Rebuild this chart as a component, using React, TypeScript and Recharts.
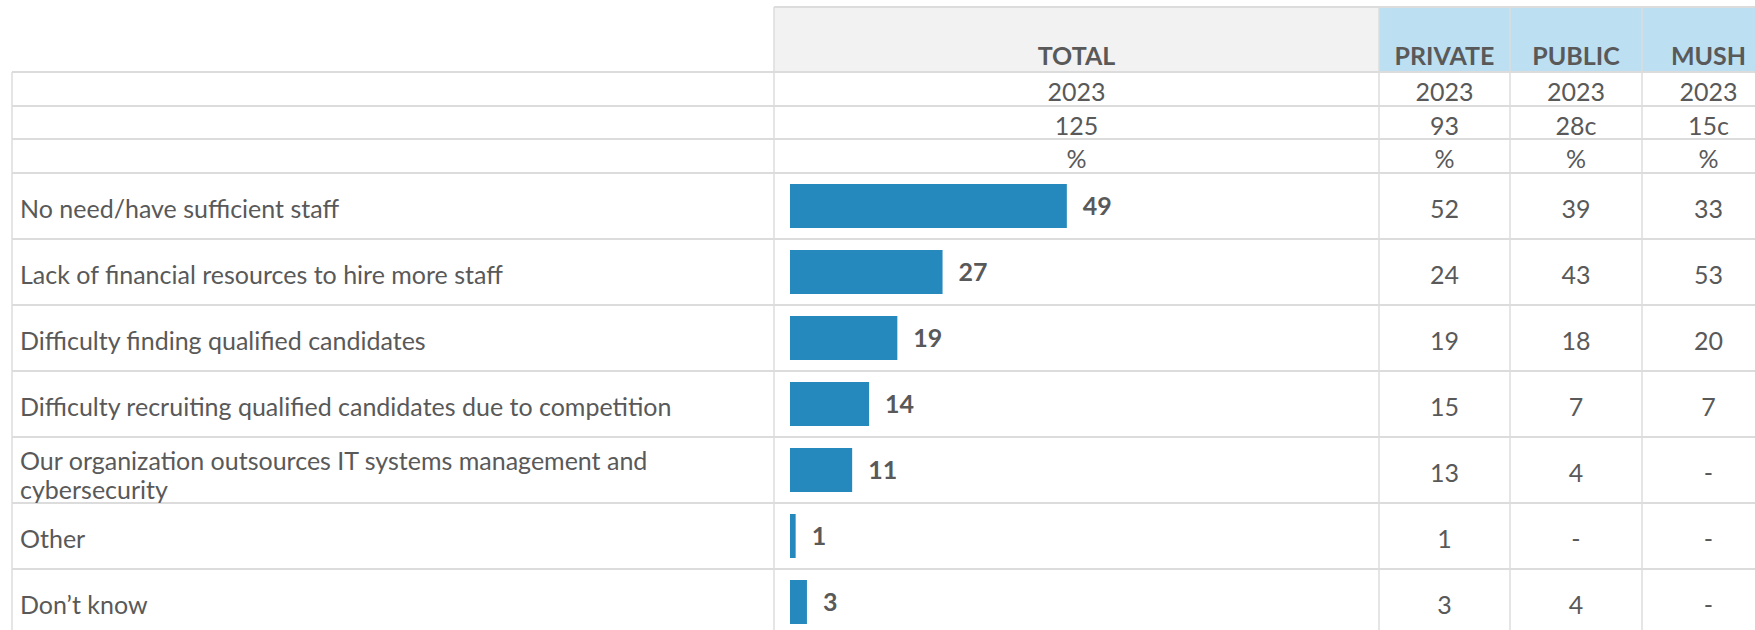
import { BarChart, Bar, XAxis, YAxis, LabelList } from "recharts";

const categories = [
  "No need/have sufficient staff",
  "Lack of financial resources to hire more staff",
  "Difficulty finding qualified candidates",
  "Difficulty recruiting qualified candidates due to competition",
  "Our organization outsources IT systems management and cybersecurity",
  "Other",
  "Don\u2019t know",
];
const totalValues = [49, 27, 19, 14, 11, 1, 3];
const privateValues = [52, 24, 19, 15, 13, 1, 3];
const publicValues = [39, 43, 18, 7, 4, null, 4];
const mushValues = [33, 53, 20, 7, null, null, null];

const columnNames = ["TOTAL", "PRIVATE", "PUBLIC", "MUSH"];
const yearLabels = ["2023", "2023", "2023", "2023"];
const baseLabels = ["125", "93", "28c", "15c"];
const unitLabels = ["%", "%", "%", "%"];

const data = categories.map((label, i) => ({
  label,
  total: totalValues[i],
  priv: privateValues[i],
  pub: publicValues[i],
  mush: mushValues[i],
}));

// layout
const W = 1755;
const H = 630;
const FONT = "Lato, 'Open Sans', sans-serif";
const FS = 25;
const TEXT = "#595959";
const LINE = "#DCDCDC";
const COL_X = [12, 774, 1379, 1510, 1642, 1775];
const HEAD_TOP = 7;
const HEAD_BOTTOM = 72;
const SUB_ROWS = [72, 106, 139, 173];
const ROW_TOP = 173;
const ROW_H = 66;
const PLOT_LEFT = 790;
const RIGHT_W = 400;

// centre of a table column (0 = TOTAL, 1 = PRIVATE, ...)
const colCenter = (c: number) => (COL_X[c + 1] + COL_X[c + 2]) / 2;
const fmt = (v: number | null) => (v == null ? "-" : String(v));

function wrap(text: string, max: number) {
  const words = text.split(" ");
  const lines: string[] = [];
  let cur = "";
  for (const w of words) {
    if (cur && (cur + " " + w).length > max) {
      lines.push(cur);
      cur = w;
    } else {
      cur = cur ? cur + " " + w : w;
    }
  }
  if (cur) lines.push(cur);
  return lines;
}

function LeftTick({ y, payload }: any) {
  const lines = wrap(payload.value, 62);
  return (
    <text x={20} y={y} fill={TEXT} fontSize={FS} fontFamily={FONT} dominantBaseline="central">
      {lines.length === 1 ? (
        <tspan x={20} dy={2}>{lines[0]}</tspan>
      ) : (
        lines.map((l, i) => (
          <tspan key={i} x={20} dy={i === 0 ? -10 : 29}>
            {l}
          </tspan>
        ))
      )}
    </text>
  );
}

function RightTick({ y, index }: any) {
  const row = data[index];
  const vals = [row.priv, row.pub, row.mush];
  return (
    <g>
      {vals.map((v, i) => (
        <text
          key={i}
          x={colCenter(i + 1)}
          y={y + 2}
          textAnchor="middle"
          dominantBaseline="central"
          fill={TEXT}
          fontSize={FS}
          fontFamily={FONT}
        >
          {fmt(v)}
        </text>
      ))}
    </g>
  );
}

function TableBackground() {
  const bottom = ROW_TOP + ROW_H * categories.length;
  const rowLines = [...SUB_ROWS, ...categories.map((_, i) => ROW_TOP + ROW_H * (i + 1))];
  const subTexts = [yearLabels, baseLabels, unitLabels];
  return (
    <svg width={W} height={H} style={{ position: "absolute", left: 0, top: 0 }}>
      <rect x={COL_X[1]} y={HEAD_TOP} width={COL_X[2] - COL_X[1]} height={HEAD_BOTTOM - HEAD_TOP} fill="#F2F2F2" />
      <rect x={COL_X[2]} y={HEAD_TOP} width={COL_X[5] - COL_X[2]} height={HEAD_BOTTOM - HEAD_TOP} fill="#BDDFF2" />
      <line x1={COL_X[1]} x2={W} y1={HEAD_TOP} y2={HEAD_TOP} stroke={LINE} strokeWidth={2} />
      {rowLines.map((y, i) => (
        <line key={i} x1={COL_X[0]} x2={W} y1={y} y2={y} stroke={LINE} strokeWidth={2} />
      ))}
      <line x1={COL_X[0]} x2={COL_X[0]} y1={HEAD_BOTTOM} y2={bottom} stroke={LINE} strokeWidth={1.5} />
      {COL_X.slice(1, 5).map((x, i) => (
        <line key={i} x1={x} x2={x} y1={HEAD_TOP} y2={bottom} stroke={LINE} strokeWidth={1.5} />
      ))}
      {columnNames.map((n, i) => (
        <text key={n} x={colCenter(i)} y={65} textAnchor="middle" fill={TEXT} fontSize={FS} fontWeight="bold" fontFamily={FONT}>
          {n}
        </text>
      ))}
      {subTexts.map((row, r) =>
        row.map((t, i) => (
          <text
            key={r + "-" + i}
            x={colCenter(i)}
            y={(SUB_ROWS[r] + SUB_ROWS[r + 1]) / 2 + 2}
            textAnchor="middle"
            dominantBaseline="central"
            fill={TEXT}
            fontSize={FS}
            fontFamily={FONT}
          >
            {t}
          </text>
        ))
      )}
    </svg>
  );
}

export default function App() {
  return (
    <div style={{ position: "absolute", left: 0, top: 0, width: W, height: H, overflow: "hidden", background: "#fff" }}>
      <TableBackground />
      <div style={{ position: "absolute", left: 0, top: 0 }}>
        <BarChart
          width={W}
          height={ROW_TOP + ROW_H * categories.length}
          data={data}
          layout="vertical"
          margin={{ top: ROW_TOP, right: 0, bottom: 0, left: 0 }}
        >
          <XAxis type="number" domain={[0, 100]} hide />
          <YAxis
            yAxisId="left"
            type="category"
            dataKey="label"
            width={PLOT_LEFT}
            axisLine={false}
            tickLine={false}
            interval={0}
            tick={<LeftTick />}
          />
          <YAxis
            yAxisId="right"
            orientation="right"
            type="category"
            dataKey="label"
            width={RIGHT_W}
            axisLine={false}
            tickLine={false}
            interval={0}
            tick={<RightTick />}
          />
          <Bar yAxisId="left" dataKey="total" fill="#2589BD" barSize={44} isAnimationActive={false}>
            <LabelList
              dataKey="total"
              position="right"
              offset={16}
              fill={TEXT}
              fontSize={FS}
              fontWeight="bold"
              fontFamily={FONT}
            />
          </Bar>
        </BarChart>
      </div>
    </div>
  );
}
